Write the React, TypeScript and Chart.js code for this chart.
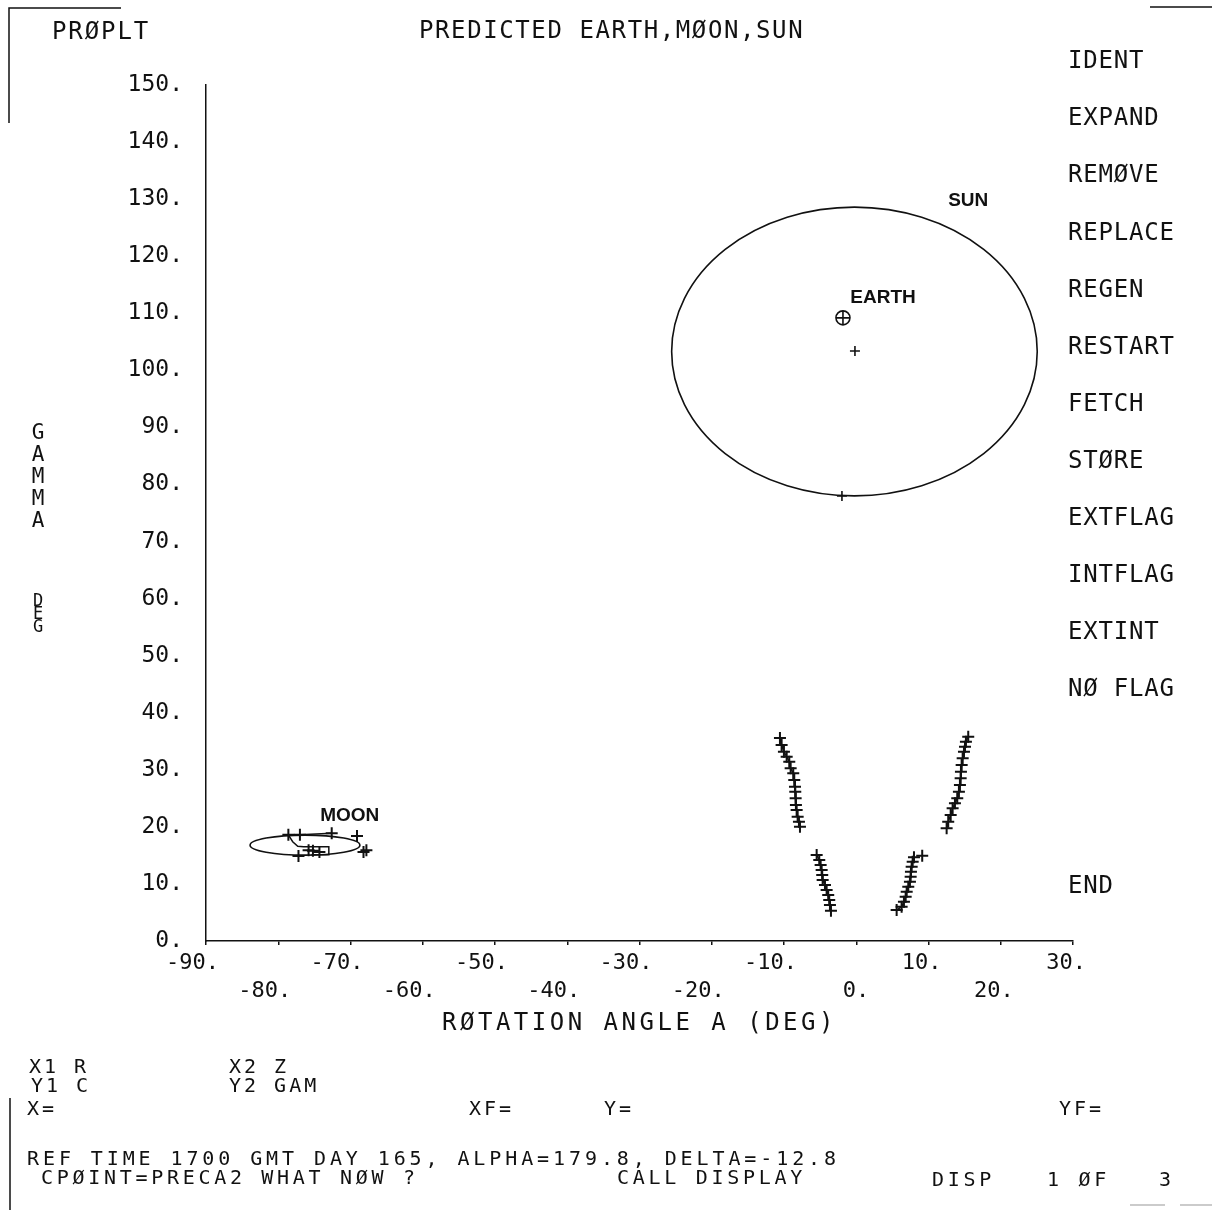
import React, { useEffect, useRef } from 'react';
import { Chart, registerables } from 'chart.js';

Chart.register(...registerables);

const W = 1212;
const H = 1210;
const INK = '#111111';
const MONO = '"DejaVu Sans Mono", monospace';

// ---- axes ----
const X_MIN = -90;
const X_MAX = 30;
const Y_MIN = 0;
const Y_MAX = 150;
const xTickValues = [-90, -80, -70, -60, -50, -40, -30, -20, -10, 0, 10, 20, 30];
const xTickLabels = ['-90.', '-80.', '-70.', '-60.', '-50.', '-40.', '-30.', '-20.', '-10.', '0.', '10.', '20.', '30.'];
const yTickValues = [0, 10, 20, 30, 40, 50, 60, 70, 80, 90, 100, 110, 120, 130, 140, 150];
const yTickLabels = ['0.', '10.', '20.', '30.', '40.', '50.', '60.', '70.', '80.', '90.', '100.', '110.', '120.', '130.', '140.', '150.'];

// ---- predicted tracks (rotation angle A, gamma) ----
const trackA_x = [-10.56, -10.33, -10.01, -9.63, -9.27, -9.08, -8.72, -8.58, -8.48, -8.44, -8.39, -8.35, -8.25, -8.11, -7.93, -7.79];
const trackA_y = [35.57, 34.34, 33.17, 32.29, 31.42, 30.26, 29.38, 28.21, 27.04, 26.16, 25.0, 23.83, 22.95, 21.78, 20.9, 20.03];
const trackB_x = [-5.48, -5.12, -4.93, -4.79, -4.71, -4.65, -4.33, -4.1, -3.88, -3.74, -3.64, -3.5];
const trackB_y = [15.07, 14.19, 13.32, 12.44, 11.56, 10.69, 9.81, 8.94, 8.06, 7.18, 6.31, 5.31];
const trackC_x = [5.59, 6.28, 6.6, 6.84, 6.98, 7.2, 7.43, 7.53, 7.57, 7.67, 7.81, 7.99];
const trackC_y = [5.43, 6.01, 6.89, 7.76, 8.64, 9.51, 10.39, 11.27, 12.14, 13.02, 13.9, 14.67];
const trackD_x = [12.51, 12.73, 13.07, 13.34, 13.66, 13.98, 14.21, 14.35, 14.45, 14.49, 14.59, 14.73, 14.91, 15.05, 15.18, 15.5];
const trackD_y = [19.75, 20.9, 22.08, 23.25, 24.13, 25.0, 26.16, 27.33, 28.51, 29.67, 30.84, 32.01, 33.17, 34.05, 34.92, 35.8];
const strayPts_x = [9.13];
const strayPts_y = [14.95];

// ---- moon ----
const moonLine_x = [-78.6, -77.0, -72.6];
const moonLine_y = [18.6, 18.6, 18.9];
const moonPath_x = [-78.6, -78.0, -77.3, -76.5, -73.0, -73.0, -75.4];
const moonPath_y = [18.6, 17.4, 16.6, 16.5, 16.5, 15.1, 15.1];
const moonPts_x = [-69.1, -68.2, -67.8, -77.2, -75.8, -75.2, -74.3];
const moonPts_y = [18.4, 15.6, 15.9, 14.9, 15.9, 15.8, 15.6];

// ---- sun / earth ----
const sunPts_x = [-0.18, -1.98];
const sunPts_y = [103.4, 78.0];
const earth_x = [-1.84];
const earth_y = [109.2];

// ---- outlines: sun disc, moon disc (centre, radii in degrees) ----
const outlineCx = [-0.25, -76.3];
const outlineCy = [103.3, 16.8];
const outlineRx = [25.3, 7.6];
const outlineRy = [25.3, 1.75];

// ---- body labels ----
const bodyNames = ['SUN', 'EARTH', 'MOON'];
const bodyLabel_x = [15.5, 3.7, -70.1];
const bodyLabel_y = [129.8, 112.7, 21.9];

// ---- menu ----
const menuItems = ['IDENT', 'EXPAND', 'REMØVE', 'REPLACE', 'REGEN', 'RESTART', 'FETCH', 'STØRE', 'EXTFLAG', 'INTFLAG', 'EXTINT', 'NØ FLAG'];

const pts = (xs: number[], ys: number[]) => xs.map((v, i) => ({ x: v, y: ys[i] }));

const trackStyle = {
  showLine: true,
  borderColor: INK,
  borderWidth: 1.5,
  pointStyle: 'cross' as const,
  pointRadius: 6,
  pointBorderWidth: 2,
  pointBorderColor: INK,
  backgroundColor: INK,
};

const overlay = {
  id: 'overlay',
  afterDatasetsDraw(chart: any) {
    const { ctx } = chart;
    const xs = chart.scales.x;
    const ys = chart.scales.y;
    ctx.save();
    ctx.strokeStyle = INK;
    ctx.lineWidth = 1.6;
    for (let i = 0; i < outlineCx.length; i++) {
      const cx = xs.getPixelForValue(outlineCx[i]);
      const cy = ys.getPixelForValue(outlineCy[i]);
      const rx = Math.abs(xs.getPixelForValue(outlineCx[i] + outlineRx[i]) - cx);
      const ry = Math.abs(ys.getPixelForValue(outlineCy[i] + outlineRy[i]) - cy);
      ctx.beginPath();
      ctx.ellipse(cx, cy, rx, ry, 0, 0, Math.PI * 2);
      ctx.stroke();
    }
    ctx.fillStyle = INK;
    ctx.font = 'bold 19px "Liberation Sans", Arial, sans-serif';
    ctx.textAlign = 'center';
    ctx.textBaseline = 'middle';
    for (let i = 0; i < bodyNames.length; i++) {
      ctx.fillText(bodyNames[i], xs.getPixelForValue(bodyLabel_x[i]), ys.getPixelForValue(bodyLabel_y[i]));
    }
    ctx.restore();
  },
  afterDraw(chart: any) {
    const { ctx, chartArea } = chart;
    ctx.save();
    ctx.fillStyle = INK;
    ctx.textBaseline = 'middle';
    const t = (s: string, x: number, y: number, size: number, ls: number, align: CanvasTextAlign = 'left') => {
      ctx.font = `${size}px ${MONO}`;
      (ctx as any).letterSpacing = `${ls}px`;
      ctx.textAlign = align;
      ctx.fillText(s, x, y);
    };
    // header
    t('PRØPLT', 52, 33, 24, 1.9);
    t('PREDICTED EARTH,MØON,SUN', 419, 32, 24, 1.6);
    // menu
    menuItems.forEach((m, i) => t(m, 1068, 62 + i * 57.1, 24, 0.8));
    t('END', 1068, 887, 24, 0.8);
    // y-axis title, stacked letters
    const gam = 'GAMMA';
    for (let i = 0; i < gam.length; i++) t(gam[i], 38, 434 + i * 22, 21, 0, 'center');
    const deg = 'DEG';
    for (let i = 0; i < deg.length; i++) t(deg[i], 38, 602 + i * 13, 17, 0, 'center');
    // x-axis title
    t('RØTATION ANGLE A (DEG)', (chartArea.left + chartArea.right) / 2, 1024, 24, 3.5, 'center');
    // bottom status block
    t('X1 R', 29, 1068, 20, 3);
    t('X2 Z', 229, 1068, 20, 3);
    t('Y1 C', 31, 1087, 20, 3);
    t('Y2 GAM', 229, 1087, 20, 3);
    t('X=', 27, 1110, 20, 3);
    t('XF=', 469, 1110, 20, 3);
    t('Y=', 604, 1110, 20, 3);
    t('YF=', 1059, 1110, 20, 3);
    t('REF TIME 1700 GMT DAY 165, ALPHA=179.8, DELTA=-12.8', 27, 1160, 20, 3.9);
    t('CPØINT=PRECA2 WHAT NØW ?', 41, 1179, 20, 3.7);
    t('CALL DISPLAY', 617, 1179, 20, 3.7);
    t('DISP', 932, 1181, 20, 3.7);
    t('1 ØF', 1047, 1181, 20, 3.7);
    t('3', 1159, 1181, 20, 3.7);
    (ctx as any).letterSpacing = '0px';
    // frame fragments
    ctx.strokeStyle = INK;
    ctx.lineWidth = 1.5;
    ctx.beginPath();
    ctx.moveTo(9, 123);
    ctx.lineTo(9, 8);
    ctx.lineTo(121, 8);
    ctx.moveTo(1150, 7);
    ctx.lineTo(1212, 7);
    ctx.moveTo(10, 1098);
    ctx.lineTo(10, 1210);
    ctx.stroke();
    ctx.strokeStyle = '#bbbbbb';
    ctx.beginPath();
    ctx.moveTo(1130, 1205);
    ctx.lineTo(1165, 1205);
    ctx.moveTo(1180, 1205);
    ctx.lineTo(1212, 1205);
    ctx.stroke();
    ctx.restore();
  },
};

export default function App() {
  const ref = useRef<HTMLCanvasElement | null>(null);
  useEffect(() => {
    if (!ref.current) return;
    const chart = new Chart(ref.current, {
      type: 'scatter',
      data: {
        datasets: [
          { data: pts(trackA_x, trackA_y), ...trackStyle },
          { data: pts(trackB_x, trackB_y), ...trackStyle },
          { data: pts(trackC_x, trackC_y), ...trackStyle },
          { data: pts(trackD_x, trackD_y), ...trackStyle },
          { data: pts(strayPts_x, strayPts_y), ...trackStyle, showLine: false },
          { data: pts(moonLine_x, moonLine_y), ...trackStyle },
          { data: pts(moonPath_x, moonPath_y), ...trackStyle, pointRadius: 0 },
          { data: pts(moonPts_x, moonPts_y), ...trackStyle, showLine: false },
          { data: pts(sunPts_x, sunPts_y), ...trackStyle, showLine: false, pointRadius: 5, pointBorderWidth: 1.6 },
          { data: pts(earth_x, earth_y), ...trackStyle, showLine: false, pointStyle: 'circle', pointRadius: 7, pointBorderWidth: 1.6, backgroundColor: 'rgba(0,0,0,0)' },
          { data: pts(earth_x, earth_y), ...trackStyle, showLine: false, pointRadius: 7, pointBorderWidth: 1.6 },
        ],
      } as any,
      options: {
        responsive: false,
        animation: false,
        events: [],
        layout: { padding: { top: 85, right: W - 1073, left: 0, bottom: 0 } },
        plugins: { legend: { display: false }, tooltip: { enabled: false }, title: { display: false } },
        scales: {
          x: {
            type: 'linear',
            min: X_MIN,
            max: X_MAX,
            afterFit: (s: any) => { s.height = H - 941; },
            afterBuildTicks: (s: any) => { s.ticks = xTickValues.map((v) => ({ value: v })); },
            ticks: {
              color: INK,
              font: { family: MONO, size: 22, lineHeight: 1.25 },
              align: 'end',
              labelOffset: 13,
              padding: 5,
              maxRotation: 0,
              autoSkip: false,
              callback: (_v: any, i: number) => (i % 2 === 0 ? [xTickLabels[i], ''] : ['', xTickLabels[i]]),
            },
            grid: { drawOnChartArea: false, drawTicks: true, tickLength: 4, color: INK, lineWidth: 1.5 },
            border: { display: true, color: INK, width: 1.5 },
          },
          y: {
            type: 'linear',
            min: Y_MIN,
            max: Y_MAX,
            afterFit: (s: any) => { s.width = 206; },
            afterBuildTicks: (s: any) => { s.ticks = yTickValues.map((v) => ({ value: v })); },
            ticks: {
              color: INK,
              font: { family: MONO, size: 23 },
              padding: 23,
              autoSkip: false,
              callback: (_v: any, i: number) => yTickLabels[i],
            },
            grid: { drawOnChartArea: false, drawTicks: false },
            border: { display: true, color: INK, width: 1.5 },
          },
        },
      } as any,
      plugins: [overlay],
    });
    return () => chart.destroy();
  }, []);
  return (
    <div style={{ position: 'absolute', left: 0, top: 0, width: W, height: H, background: '#ffffff' }}>
      <canvas ref={ref} width={W} height={H} style={{ display: 'block' }} />
    </div>
  );
}
